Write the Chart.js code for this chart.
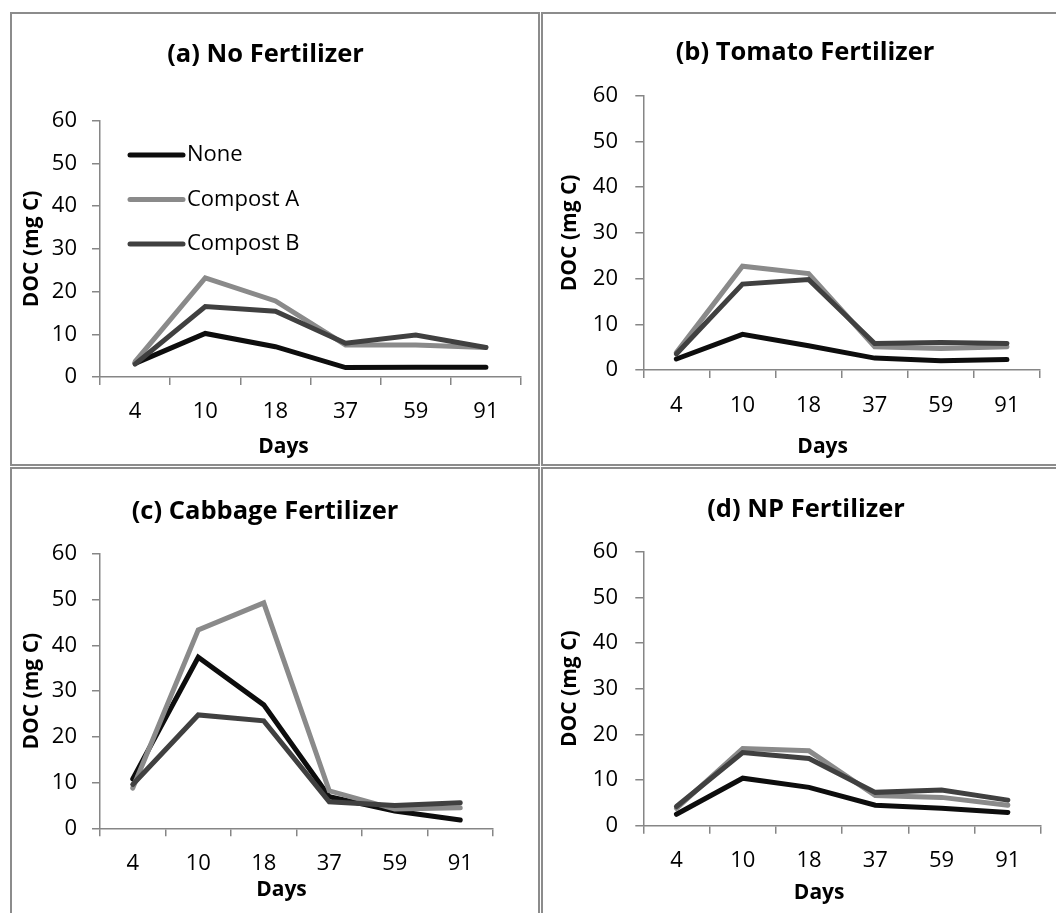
<!DOCTYPE html>
<html><head><meta charset="utf-8">
<script src="https://cdn.jsdelivr.net/npm/chart.js@4.4.0/dist/chart.umd.min.js"></script>
<style>
html,body{margin:0;padding:0;background:#fff;width:1056px;height:913px;overflow:hidden;}
body{position:relative;}
.box{position:absolute;border:2px solid #8c8c8c;box-sizing:border-box;}
.cv{position:absolute;}
</style></head><body>
<div class="box" style="left:10px;top:12px;width:530px;height:454px"></div>
<div class="box" style="left:541px;top:12px;width:600px;height:454px"></div>
<div class="box" style="left:10px;top:467px;width:530px;height:500px"></div>
<div class="box" style="left:541px;top:467px;width:600px;height:500px"></div>
<canvas id="ca" class="cv"></canvas>
<canvas id="cb" class="cv"></canvas>
<canvas id="cc" class="cv"></canvas>
<canvas id="cd" class="cv"></canvas>
<script>
// ---- data ----
const days = ['4', '10', '18', '37', '59', '91'];
const seriesNames = ['None', 'Compost A', 'Compost B'];
const yTicks = [0, 10, 20, 30, 40, 50, 60];
const titles = ['(a) No Fertilizer', '(b) Tomato Fertilizer', '(c) Cabbage Fertilizer', '(d) NP Fertilizer'];
const xTitle = 'Days';
const yTitle = 'DOC (mg C)';

const noFertNone     = [3.2, 10.2, 7.1, 2.2, 2.3, 2.3];
const noFertCompA    = [3.6, 23.2, 17.8, 7.5, 7.5, 6.9];
const noFertCompB    = [3.0, 16.5, 15.4, 7.9, 9.8, 6.9];

const tomatoNone     = [2.4, 7.8, 5.3, 2.6, 2.0, 2.3];
const tomatoCompA    = [3.8, 22.7, 21.1, 5.1, 4.7, 5.1];
const tomatoCompB    = [3.5, 18.8, 19.8, 5.8, 6.0, 5.8];

const cabbageNone    = [10.8, 37.4, 27.0, 6.9, 3.8, 1.8];
const cabbageCompA   = [8.8, 43.4, 49.3, 8.2, 4.2, 4.5];
const cabbageCompB   = [9.6, 24.8, 23.5, 5.8, 5.0, 5.6];

const npNone         = [2.5, 10.4, 8.4, 4.5, 3.8, 2.9];
const npCompA        = [3.8, 16.9, 16.4, 6.6, 6.2, 4.5];
const npCompB        = [4.2, 16.0, 14.7, 7.3, 7.8, 5.6];

// ---- styles ----
const FONT = "'Open Sans', 'Noto Sans', sans-serif";
const AXIS = '#868686';
const colors = ['#0d0d0d', '#8a8a8a', '#404040'];

const legendInside = {
  id: 'legendInside',
  afterDatasetsDraw(chart, args, opts) {
    if (!opts.show) return;
    const ctx = chart.ctx, a = chart.chartArea;
    ctx.save();
    chart.data.datasets.forEach((ds, i) => {
      const y = a.top + opts.y0 + i * opts.dy;
      ctx.strokeStyle = ds.borderColor;
      ctx.lineWidth = 5;
      ctx.lineCap = 'round';
      ctx.beginPath();
      ctx.moveTo(a.left + opts.x0, y);
      ctx.lineTo(a.left + opts.x1, y);
      ctx.stroke();
      ctx.fillStyle = '#000';
      ctx.font = opts.size + 'px ' + FONT;
      ctx.textBaseline = 'middle';
      ctx.textAlign = 'left';
      ctx.fillText(ds.label, a.left + opts.tx, y);
    });
    ctx.restore();
  }
};

const shiftXTitle = {
  id: 'shiftXTitle',
  afterLayout(chart, args, opts) {
    const s = chart.scales.x;
    if (!s || s.__shifted) return;
    const orig = s.drawTitle;
    s.drawTitle = function () {
      const r = this.right;
      this.right = r - 2 * (opts.shift || 0);
      orig.call(this);
      this.right = r;
    };
    s.__shifted = true;
  }
};

// panel geometry in page coordinates
const panels = [
  { id: 'ca', ox: 10,  oy: 13,  W: 529, H: 452, L: 100,   R: 521,  T: 120.7, B: 377,   ty: 55,  tcx: 264, xly: 412,   dy: 447, ylr: 77,  ytx: 32,  dshift: 27, legend: true,
    values: [noFertNone, noFertCompA, noFertCompB] },
  { id: 'cb', ox: 542, oy: 13,  W: 514, H: 452, L: 643.3, R: 1040, T: 95.7,  B: 370,   ty: 53,  tcx: 805, xly: 405.7, dy: 447, ylr: 618, ytx: 570, dshift: 19, legend: false,
    values: [tomatoNone, tomatoCompA, tomatoCompB] },
  { id: 'cc', ox: 10,  oy: 468, W: 529, H: 445, L: 100,   R: 493,  T: 554,   B: 828.3, ty: 512, tcx: 265, xly: 864,   dy: 890, ylr: 77,  ytx: 32,  dshift: 15, legend: false,
    values: [cabbageNone, cabbageCompA, cabbageCompB] },
  { id: 'cd', ox: 542, oy: 468, W: 514, H: 445, L: 643.3, R: 1041, T: 551.7, B: 825.7, ty: 510, tcx: 806, xly: 861,   dy: 893, ylr: 618, ytx: 570, dshift: 23, legend: false,
    values: [npNone, npCompA, npCompB] }
];

const TICK = 8, TICKF = 22, TITLEF = 25.5, AXTF = 21, LEGF = 22, LH = 1.2;

panels.forEach((p, idx) => {
  const cv = document.getElementById(p.id);
  cv.width = p.W; cv.height = p.H;
  cv.style.left = p.ox + 'px'; cv.style.top = p.oy + 'px';
  cv.style.width = p.W + 'px'; cv.style.height = p.H + 'px';

  const rLocal = p.R - p.ox;
  const padR = p.W - rLocal;
  const padL = Math.max(0, 2 * (p.tcx - p.ox) - rLocal);
  const yW = (p.L - p.ox) - padL;
  const xH = p.H - (p.B - p.oy);
  const tlh = TITLEF * LH, klh = TICKF * LH, alh = AXTF * LH;
  const titlePadTop = (p.ty - p.oy) - tlh / 2;
  const titlePadBot = (p.T - p.oy) - (p.ty - p.oy) - tlh / 2;
  const xTickPad = (p.xly - p.B) - TICK - klh / 2;
  const xTitlePadBot = (p.oy + p.H) - p.dy - alh / 2;
  const yTickPad = (p.L - p.ylr) - TICK;
  const yTitlePadTop = (p.ytx - p.ox) - padL - alh / 2;

  new Chart(cv, {
    type: 'line',
    data: {
      labels: days,
      datasets: seriesNames.map((n, i) => ({
        label: n,
        data: p.values[i],
        borderColor: colors[i],
        backgroundColor: colors[i],
        borderWidth: 5,
        pointRadius: 0,
        pointHoverRadius: 0,
        tension: 0,
        fill: false,
        borderCapStyle: 'round',
        borderJoinStyle: 'miter',
        order: [3, 2, 1][i]
      }))
    },
    options: {
      responsive: false,
      animation: false,
      devicePixelRatio: 1,
      layout: { padding: { left: padL, right: padR, top: 0, bottom: 0 } },
      plugins: {
        legend: { display: false },
        tooltip: { enabled: false },
        title: {
          display: true, text: titles[idx], color: '#000',
          font: { family: FONT, size: TITLEF, weight: 'bold', lineHeight: LH },
          padding: { top: titlePadTop, bottom: titlePadBot }
        },
        legendInside: { show: p.legend, x0: 30, x1: 83, y0: 34.3, dy: 44.5, tx: 87, size: LEGF },
        shiftXTitle: { shift: p.dshift }
      },
      scales: {
        x: {
          type: 'category',
          offset: true,
          grid: { offset: true, drawOnChartArea: false, drawTicks: true, tickLength: TICK, color: AXIS, lineWidth: 1.5 },
          border: { display: true, color: AXIS, width: 1.5 },
          ticks: { color: '#000', font: { family: FONT, size: TICKF, lineHeight: LH }, padding: xTickPad, maxRotation: 0, autoSkip: false },
          title: { display: true, text: xTitle, color: '#000', font: { family: FONT, size: AXTF, weight: 'bold', lineHeight: LH }, padding: { top: 0, bottom: xTitlePadBot } },
          afterFit(s) { s.height = xH; }
        },
        y: {
          min: yTicks[0], max: yTicks[yTicks.length - 1],
          afterBuildTicks(s) { s.ticks = yTicks.map(v => ({ value: v })); },
          grid: { drawOnChartArea: false, drawTicks: true, tickLength: TICK, color: AXIS, lineWidth: 1.5 },
          border: { display: true, color: AXIS, width: 1.5 },
          ticks: { color: '#000', font: { family: FONT, size: TICKF, lineHeight: LH }, padding: yTickPad },
          title: { display: true, text: yTitle, color: '#000', font: { family: FONT, size: AXTF, weight: 'bold', lineHeight: LH }, padding: { top: yTitlePadTop, bottom: 0 } },
          afterFit(s) { s.width = yW; }
        }
      }
    },
    plugins: [legendInside, shiftXTitle]
  });
});
</script>
</body></html>
